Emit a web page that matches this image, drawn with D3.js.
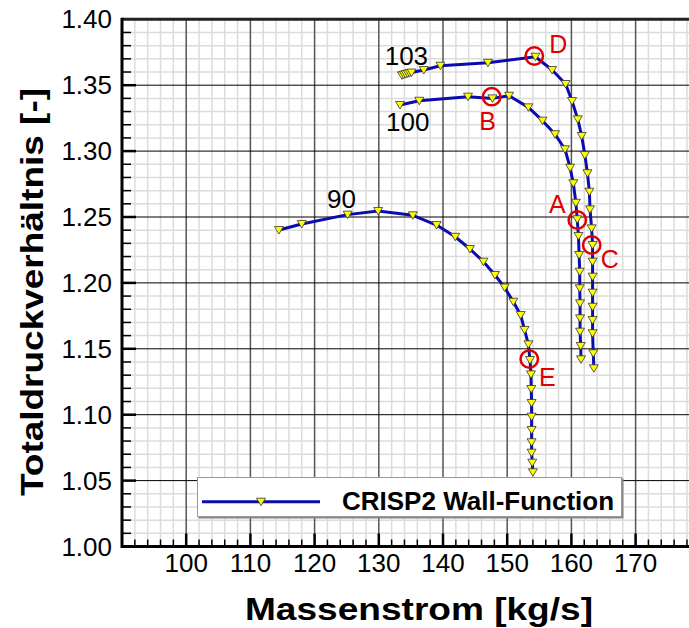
<!DOCTYPE html>
<html>
  <head>
    <meta charset="utf-8">
    <title>Totaldruckverhaeltnis</title>
    <style>
      body { margin: 0; background: #fff; }
      svg { display: block; font-family: "Liberation Sans", Arial, sans-serif; }
      .tick-label { font-size: 26px; fill: #000; }
      .axis-title { font-size: 32px; font-weight: bold; fill: #000; }
      .speed-label { font-size: 26px; fill: #000; }
      .mark-label { font-size: 25px; fill: #e00000; }
    </style>
  </head>
  <body>
    <div id="chart"></div>
    <script src="https://d3js.org/d3.v7.min.js"></script>
    <script>
    // speed line 90
    var m90  = [114.45, 118.0, 125.15, 129.9, 135.3, 139.0, 141.9, 144.2, 146.3, 148.1, 149.6, 150.95,
                152.1, 152.7, 153.3, 153.55, 153.7, 153.75, 153.8, 153.8, 153.8, 153.8, 153.8, 153.9, 154.0];
    var pr90 = [1.2401, 1.2447, 1.2518, 1.2546, 1.2513, 1.2439, 1.2350, 1.2257, 1.2161, 1.2060, 1.1965, 1.1857,
                1.1756, 1.1643, 1.1534, 1.1415, 1.1306, 1.1195, 1.1089, 1.0985, 1.0884, 1.0791, 1.0712, 1.0636, 1.0563];
    // speed line 100
    var m100  = [133.3, 136.3, 143.9, 147.7, 150.3, 153.3, 155.5, 157.45, 159.0, 159.8, 160.3, 160.7, 160.9,
                 161.1, 161.2, 161.3, 161.3, 161.35, 161.35, 161.35, 161.45, 161.5];
    var pr100 = [1.3350, 1.3382, 1.3413, 1.3400, 1.3420, 1.3332, 1.3231, 1.3128, 1.3014, 1.2874, 1.2756, 1.2608, 1.2483,
                 1.2356, 1.2212, 1.2085, 1.1959, 1.1845, 1.1731, 1.1630, 1.1521, 1.1420];
    // speed line 103
    var m103  = [133.6, 133.9, 134.2, 134.5, 134.8, 135.1, 137.0, 139.6, 147.0, 154.4, 157.0, 159.1, 160.1, 161.0,
                 161.6, 162.1, 162.5, 162.8, 162.9, 163.15, 163.3, 163.3, 163.3, 163.3, 163.3, 163.3, 163.3, 163.4, 163.5];
    var pr103 = [1.3575, 1.3580, 1.3584, 1.3588, 1.3592, 1.3596, 1.3615, 1.3648, 1.3670, 1.3716, 1.3615, 1.3509, 1.3380, 1.3241,
                 1.3115, 1.2970, 1.2832, 1.2692, 1.2558, 1.2414, 1.2288, 1.2161, 1.2047, 1.1926, 1.1819, 1.1718, 1.1618, 1.1466, 1.1352];

    var speedNames = ['90', '100', '103'];
    var speedLabelX = [124.2, 134.5, 134.3];
    var speedLabelY = [1.2572, 1.3152, 1.3650];

    // operating points marked in red
    var markNames = ['A', 'B', 'C', 'D', 'E'];
    var markX = [160.92, 147.58, 163.16, 154.22, 153.44];
    var markY = [1.2477, 1.3413, 1.2288, 1.3721, 1.1422];

    var xTicks = [100, 110, 120, 130, 140, 150, 160, 170];
    var yTicks = [1.00, 1.05, 1.10, 1.15, 1.20, 1.25, 1.30, 1.35, 1.40];
    var seriesName = 'CRISP2 Wall-Function';

    var width = 689, height = 628;
    var lineColor = '#0c0cae';

    var x = d3.scaleLinear().domain([90, 180]).range([122, 699.8]);
    var y = d3.scaleLinear().domain([1.00, 1.40]).range([546.5, 19.3]);

    var svg = d3.select('#chart')
      .append('svg')
      .attr('width', width)
      .attr('height', height);

    svg.append('clipPath').attr('id', 'plot')
      .append('rect')
      .attr('x', 122).attr('y', 19.3)
      .attr('width', width - 122).attr('height', 546.5 - 19.3);

    var grid = svg.append('g');
    var minorX = d3.range(92, 180, 2).filter(function(v) { return v % 10 !== 0; });
    var minorY = d3.range(1, 40).filter(function(i) { return i % 5 !== 0; })
      .map(function(i) { return 1 + i / 100; });

    grid.selectAll('.gx-minor').data(minorX).enter().append('line')
      .attr('x1', x).attr('x2', x).attr('y1', y(1.0)).attr('y2', y(1.4))
      .attr('stroke', '#dcdcdc').attr('stroke-width', 1.5);
    grid.selectAll('.gy-minor').data(minorY).enter().append('line')
      .attr('x1', x(90)).attr('x2', width).attr('y1', y).attr('y2', y)
      .attr('stroke', '#dcdcdc').attr('stroke-width', 1.5);
    grid.selectAll('.gx-major').data(xTicks).enter().append('line')
      .attr('x1', x).attr('x2', x).attr('y1', y(1.0)).attr('y2', y(1.4))
      .attr('stroke', '#555').attr('stroke-width', 1.5);
    grid.selectAll('.gy-major').data(yTicks.slice(1, -1)).enter().append('line')
      .attr('x1', x(90)).attr('x2', width).attr('y1', y).attr('y2', y)
      .attr('stroke', '#000').attr('stroke-width', 1);

    // ticks pointing inwards
    var ticks = svg.append('g').attr('stroke', '#000');
    ticks.selectAll('.tx').data(d3.range(92, 180, 2)).enter().append('line')
      .attr('x1', x).attr('x2', x)
      .attr('y1', y(1.0))
      .attr('y2', function(d) { return y(1.0) - (d % 10 === 0 ? 13 : 7); })
      .attr('stroke-width', function(d) { return d % 10 === 0 ? 2.5 : 1.5; });
    ticks.selectAll('.ty').data(d3.range(1, 40)).enter().append('line')
      .attr('y1', function(i) { return y(1 + i / 100); })
      .attr('y2', function(i) { return y(1 + i / 100); })
      .attr('x1', x(90))
      .attr('x2', function(i) { return x(90) + (i % 5 === 0 ? 14 : 9); })
      .attr('stroke-width', function(i) { return i % 5 === 0 ? 2.5 : 1.5; });

    // frame
    svg.append('line').attr('x1', x(90)).attr('x2', width).attr('y1', y(1.4)).attr('y2', y(1.4))
      .attr('stroke', '#222').attr('stroke-width', 3);
    svg.append('line').attr('x1', x(90)).attr('x2', width).attr('y1', y(1.0)).attr('y2', y(1.0))
      .attr('stroke', '#000').attr('stroke-width', 3);
    svg.append('line').attr('x1', x(90)).attr('x2', x(90)).attr('y1', y(1.4) - 1.5).attr('y2', y(1.0) + 1.5)
      .attr('stroke', '#000').attr('stroke-width', 3);

    // tick labels
    svg.selectAll('.xl').data(xTicks).enter().append('text')
      .attr('class', 'tick-label')
      .attr('x', x).attr('y', 572)
      .attr('text-anchor', 'middle')
      .text(function(d) { return d; });
    svg.selectAll('.yl').data(yTicks).enter().append('text')
      .attr('class', 'tick-label')
      .attr('x', 112).attr('y', function(d) { return y(d) + 9; })
      .attr('text-anchor', 'end')
      .text(function(d) { return d3.format('.2f')(d); });

    // axis titles
    svg.append('text').attr('class', 'axis-title')
      .attr('x', 419).attr('y', 620)
      .attr('text-anchor', 'middle')
      .attr('textLength', 348).attr('lengthAdjust', 'spacingAndGlyphs')
      .text('Massenstrom [kg/s]');
    svg.append('text').attr('class', 'axis-title')
      .attr('transform', 'translate(43,292) rotate(-90)')
      .attr('text-anchor', 'middle')
      .attr('textLength', 408).attr('lengthAdjust', 'spacingAndGlyphs')
      .text('Totaldruckverhältnis [-]');

    // speed lines
    var series = [[m90, pr90], [m100, pr100], [m103, pr103]].map(function(s) {
      return s[0].map(function(m, i) { return { m: m, pr: s[1][i] }; });
    });
    var line = d3.line()
      .x(function(d) { return x(d.m); })
      .y(function(d) { return y(d.pr); });
    var tri = 'M-4.5,-3.5L4.5,-3.5L0,4Z';

    var plot = svg.append('g').attr('clip-path', 'url(#plot)');
    series.forEach(function(s) {
      plot.append('path')
        .datum(s)
        .attr('d', line)
        .attr('fill', 'none')
        .attr('stroke', lineColor)
        .attr('stroke-width', 3)
        .attr('stroke-linejoin', 'round');
      plot.selectAll(null).data(s).enter().append('path')
        .attr('d', tri)
        .attr('transform', function(d) { return 'translate(' + x(d.m) + ',' + y(d.pr) + ')'; })
        .attr('fill', '#ffff00')
        .attr('stroke', '#333')
        .attr('stroke-width', 0.8);
    });

    svg.selectAll('.speed').data(speedNames).enter().append('text')
      .attr('class', 'speed-label')
      .attr('x', function(d, i) { return x(speedLabelX[i]); })
      .attr('y', function(d, i) { return y(speedLabelY[i]); })
      .attr('text-anchor', 'middle')
      .text(function(d) { return d; });

    // red circles with letters
    var labelOffset = { A: [-20, -7], B: [-4, 33], C: [18, 23], D: [24, -3], E: [18, 27] };
    svg.selectAll('.mark').data(markNames).enter().append('circle')
      .attr('cx', function(d, i) { return x(markX[i]); })
      .attr('cy', function(d, i) { return y(markY[i]); })
      .attr('r', 8.7)
      .attr('fill', 'none')
      .attr('stroke', '#e00000')
      .attr('stroke-width', 2.5);
    svg.selectAll('.markl').data(markNames).enter().append('text')
      .attr('class', 'mark-label')
      .attr('x', function(d, i) { return x(markX[i]) + labelOffset[d][0]; })
      .attr('y', function(d, i) { return y(markY[i]) + labelOffset[d][1]; })
      .attr('text-anchor', 'middle')
      .text(function(d) { return d; });

    // legend
    var legend = svg.append('g');
    legend.append('rect')
      .attr('x', 198.5).attr('y', 478.5).attr('width', 425).attr('height', 40)
      .attr('fill', '#888');
    legend.append('rect')
      .attr('x', 197.5).attr('y', 477.5).attr('width', 424).attr('height', 39)
      .attr('fill', '#fff').attr('stroke', '#999').attr('stroke-width', 1);
    legend.append('line')
      .attr('x1', 202).attr('x2', 320).attr('y1', 501.7).attr('y2', 501.7)
      .attr('stroke', lineColor).attr('stroke-width', 3);
    legend.append('path')
      .attr('d', tri)
      .attr('transform', 'translate(261,501.7)')
      .attr('fill', '#ffff00').attr('stroke', '#333').attr('stroke-width', 0.8);
    legend.append('text')
      .attr('x', 342).attr('y', 509.5)
      .style('font-size', '26px').style('font-weight', 'bold')
      .text(seriesName);
    </script>
  </body>
</html>
